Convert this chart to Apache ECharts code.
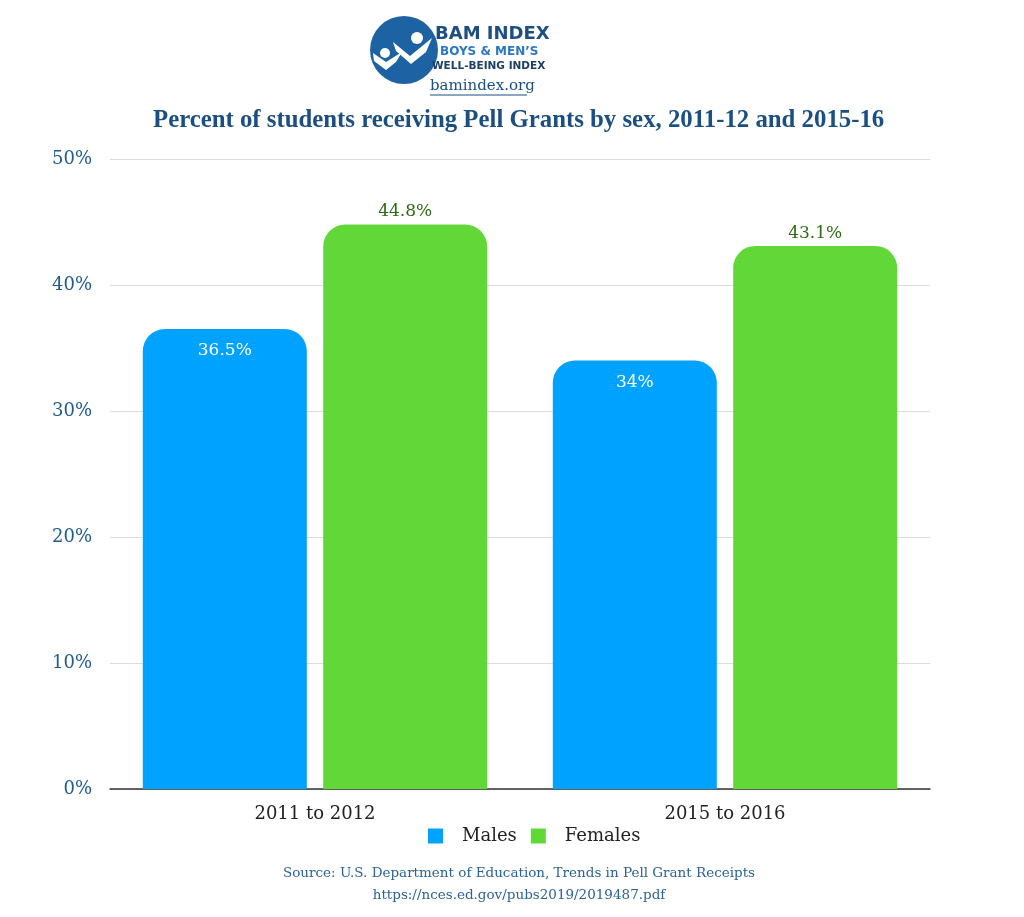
<!DOCTYPE html>
<html><head><meta charset="utf-8">
<script src="https://cdn.jsdelivr.net/npm/echarts@6/dist/echarts.min.js"></script>
<style>html,body{margin:0;padding:0;background:#fff}#c{width:1024px;height:917px}</style>
</head><body><div id="c"></div>
<script>
const categories = ['2011 to 2012', '2015 to 2016'];
const males = [36.5, 34];
const females = [44.8, 43.1];
const yTicks = [0, 10, 20, 30, 40, 50];

const serif = '"DejaVu Serif", "Liberation Serif", serif';
const chart = echarts.init(document.getElementById('c'));
chart.setOption({
  animation: false,
  backgroundColor: '#fff',
  title: {
    text: 'Percent of students receiving Pell Grants by sex, 2011-12 and 2015-16',
    left: 148, top: 103,
    textStyle: { fontFamily: '"Liberation Serif", serif', fontWeight: 'bold', fontSize: 24.8, color: '#1b4f82' }
  },
  legend: {
    data: ['Males', 'Females'], bottom: 67, left: 423,
    itemWidth: 15, itemHeight: 15, itemGap: 14, icon: 'rect',
    textStyle: { fontFamily: serif, fontSize: 18, color: '#222', padding: [0, 0, 0, 14] }
  },
  grid: { left: 110, right: 94, top: 159, bottom: 128 },
  xAxis: {
    type: 'category', data: categories,
    axisLine: { lineStyle: { color: '#333', width: 1.5 } },
    axisTick: { show: false },
    axisLabel: { fontFamily: serif, fontSize: 18, color: '#222', margin: 16 }
  },
  yAxis: {
    type: 'value', min: yTicks[0], max: yTicks[yTicks.length - 1], interval: 10,
    axisLine: { show: false }, axisTick: { show: false },
    splitLine: { lineStyle: { color: '#dcdcdc' } },
    axisLabel: { formatter: '{value}%', fontFamily: serif, fontSize: 18, color: '#1f5b8e', margin: 18 }
  },
  series: [
    {
      name: 'Males', type: 'bar', data: males, barGap: '10%', barCategoryGap: '16%',
      itemStyle: { color: '#00a2ff', borderRadius: [22, 22, 0, 0] },
      label: { show: true, position: 'insideTop', distance: 13, formatter: '{c}%', fontFamily: serif, fontSize: 17, color: '#fff' }
    },
    {
      name: 'Females', type: 'bar', data: females,
      itemStyle: { color: '#62d838', borderRadius: [22, 22, 0, 0] },
      label: { show: true, position: 'top', distance: 4, formatter: '{c}%', fontFamily: serif, fontSize: 17, color: '#2d6b12' }
    }
  ],
  graphic: [
    { type: 'circle', shape: { cx: 404, cy: 50, r: 34 }, style: { fill: '#1d63a4' } },
    { type: 'circle', shape: { cx: 385, cy: 53, r: 5 }, style: { fill: '#fff' } },
    { type: 'circle', shape: { cx: 417, cy: 38, r: 6 }, style: { fill: '#fff' } },
    { type: 'polygon', shape: { points: [[373,53],[386,62],[402,52],[396,62],[386,70],[374,61]] }, style: { fill: '#fff' } },
    { type: 'polygon', shape: { points: [[393,42],[410,56],[432,38],[426,52],[411,64],[396,51]] }, style: { fill: '#fff' } },
    { type: 'text', left: 435, top: 25, style: { text: 'BAM INDEX', font: 'bold 18px "DejaVu Sans", sans-serif', fill: '#1d4f80' } },
    { type: 'text', left: 440, top: 46, style: { text: 'BOYS & MEN\u2019S', font: 'bold 12px "DejaVu Sans", sans-serif', fill: '#2b78c0' } },
    { type: 'text', left: 432, top: 61, style: { text: 'WELL-BEING INDEX', font: 'bold 10.5px "DejaVu Sans", sans-serif', fill: '#1d3f66' } },
    { type: 'text', left: 430, top: 79, style: { text: 'bamindex.org', font: '15px "DejaVu Serif", serif', fill: '#1d4f80' } },
    { type: 'line', shape: { x1: 430, y1: 95, x2: 527, y2: 95 }, style: { stroke: '#1d4f80', lineWidth: 1 } },
    { type: 'text', x: 519, y: 866, style: { text: 'Source: U.S. Department of Education, Trends in Pell Grant Receipts', font: '13.5px "DejaVu Serif", serif', fill: '#2a6396', textAlign: 'center' } },
    { type: 'text', x: 519, y: 888, style: { text: 'https://nces.ed.gov/pubs2019/2019487.pdf', font: '13.5px "DejaVu Serif", serif', fill: '#2a6396', textAlign: 'center' } }
  ]
});
</script></body></html>
